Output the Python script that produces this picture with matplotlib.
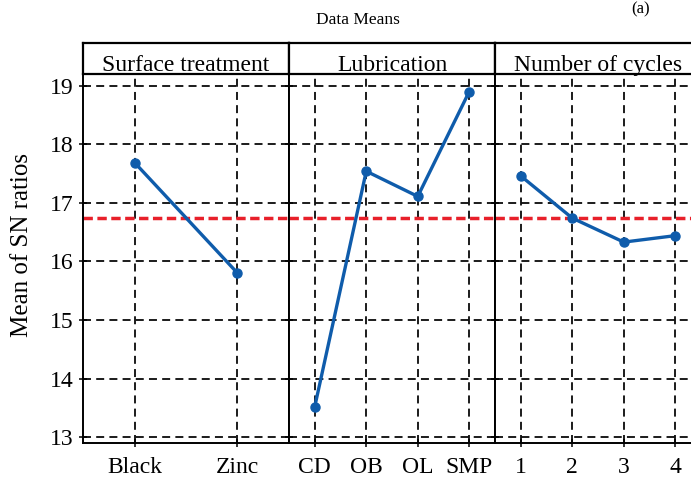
import matplotlib
matplotlib.use('Agg')
import matplotlib.pyplot as plt

# Main effects (means of SN ratios).
surface_levels = ['Black', 'Zinc']
surface_means = [17.68, 15.81]
lube_levels = ['CD', 'OB', 'OL', 'SMP']
lube_means = [13.52, 17.54, 17.11, 18.90]
cycle_levels = ['1', '2', '3', '4']
cycle_means = [17.46, 16.74, 16.33, 16.44]
overall_mean = 16.75

factors = ['Surface treatment', 'Lubrication', 'Number of cycles']
levels = [surface_levels, lube_levels, cycle_levels]
means = [surface_means, lube_means, cycle_means]
yticks = [13, 14, 15, 16, 17, 18, 19]

plt.rcParams['font.family'] = ['Liberation Serif', 'DejaVu Serif']

W, H = 691, 480
fig = plt.figure(figsize=(W / 100, H / 100), dpi=100)

# Panel geometry in pixels.
left_px = 83
panel_w = 206
top_px = 74
bottom_px = 443
strip_top = 43

line_col = '#0f5cab'
grid_style = dict(color='black', lw=1.25, linestyle=(0, (4.6, 3)), zorder=1)

for i, (name, labs, vals) in enumerate(zip(factors, levels, means)):
    x0 = left_px + i * panel_w
    ax = fig.add_axes([x0 / W, 1 - bottom_px / H, panel_w / W, (bottom_px - top_px) / H])
    pos = list(range(len(labs)))
    if len(labs) == 2:
        ax.set_xlim(-0.51, 1.51)
    else:
        ax.set_xlim(-0.5, 3.5)
    ax.set_ylim(12.9, 19.2)

    # dashed grid at each level and each integer of the y axis
    for p in pos:
        ax.axvline(p, **grid_style)
    for t in yticks:
        ax.axhline(t, **grid_style)

    ax.axhline(overall_mean, color='#e8202a', lw=2.5, linestyle=(0, (2.7, 1.3)), zorder=2)
    ax.plot(pos, vals, color=line_col, lw=2.4, marker='o', markersize=6.5, zorder=3)

    ax.set_xticks(pos)
    ax.set_xticklabels(labs)
    ax.set_yticks(yticks)
    ax.tick_params(direction='inout', length=6, width=1.1, labelsize=17, pad=4)
    ax.tick_params(axis='x', pad=7)
    if i > 0:
        ax.tick_params(axis='y', labelleft=False)
    for s in ax.spines.values():
        s.set_linewidth(1.4)

    # strip with the factor name
    sax = fig.add_axes([x0 / W, 1 - top_px / H, panel_w / W, (top_px - strip_top) / H])
    sax.set_xticks([])
    sax.set_yticks([])
    for s in sax.spines.values():
        s.set_linewidth(1.6)
    sax.text(0.5, 0.1, name, ha='center', va='baseline', fontsize=17, transform=sax.transAxes)

fig.text(22 / W, 1 - 245 / H, 'Mean of SN ratios', rotation=90, ha='center', va='center', fontsize=18)
fig.text(358 / W, 1 - 20 / H, 'Data Means', ha='center', va='center', fontsize=12.5)
fig.text(641 / W, 1 - 1 / H, '(a)', ha='center', va='top', fontsize=12)

fig.savefig('out.png', dpi=100)
